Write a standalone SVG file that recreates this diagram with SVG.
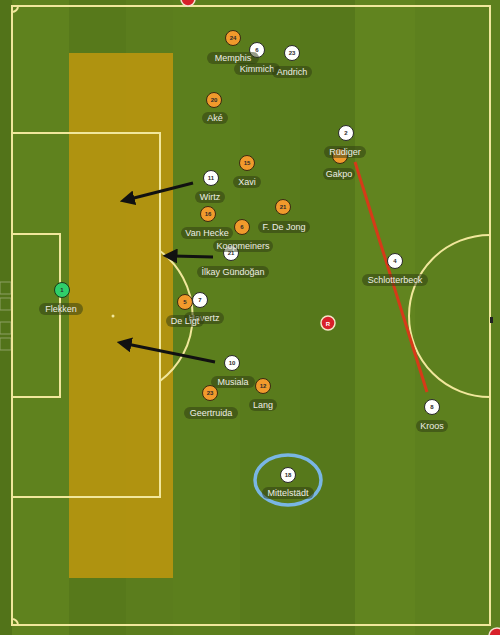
<svg xmlns="http://www.w3.org/2000/svg" width="500" height="635" viewBox="0 0 500 635">
<defs>
<style>
.ln{fill:none;stroke:#f1e79c;stroke-width:2}
.lbl rect{fill:#2e3a12;fill-opacity:0.5}
.lbl text{font-family:"Liberation Sans",Arial,sans-serif;font-size:9px;fill:#eeeee4;text-anchor:middle}
.or{fill:#f19a2c;stroke:#3a2a10;stroke-width:1}
.wh{fill:#ffffff;stroke:#2a2a2a;stroke-width:1}
.gk{fill:#2fcf6a;stroke:#1a3a1a;stroke-width:1}
.num{font-family:"Liberation Sans",Arial,sans-serif;font-size:6px;font-weight:bold;text-anchor:middle;fill:#2a2a2a}
.arr{stroke:#111;stroke-width:3;fill:none;marker-end:url(#ah)}
</style>
<marker id="ah" markerWidth="5" markerHeight="5" refX="1.5" refY="2.5" orient="auto" markerUnits="strokeWidth">
<path d="M0,0 L5,2.5 L0,5 Z" fill="#111"/>
</marker>
</defs>
<!-- pitch background -->
<rect x="0" y="0" width="500" height="635" fill="#5b7d1d"/>
<g id="stripes">
<rect x="0" y="0" width="12" height="635" fill="#527319"/>
<rect x="12" y="0" width="57" height="635" fill="#5f821e"/>
<rect x="69" y="0" width="57" height="635" fill="#57791b"/>
<rect x="173" y="0" width="67" height="635" fill="#5c7f1d"/>
<rect x="240" y="0" width="60" height="635" fill="#597b1c"/>
<rect x="300" y="0" width="55" height="635" fill="#56781b"/>
<rect x="355" y="0" width="60" height="635" fill="#61841f"/>
<rect x="415" y="0" width="85" height="635" fill="#5d801e"/>
</g>
<!-- goal net -->
<g id="goal" fill="none" stroke="#d8d8c0" stroke-opacity="0.45" stroke-width="1">
<rect x="0" y="282" width="11" height="12"/>
<rect x="0" y="298" width="11" height="12"/>
<rect x="0" y="322" width="11" height="12"/>
<rect x="0" y="338" width="11" height="12"/>
</g>
<!-- highlight zone -->
<rect id="zone" x="69" y="53" width="104" height="525" fill="#b9960f" fill-opacity="0.9"/>
<!-- pitch lines -->
<g id="lines">
<rect class="ln" x="12" y="6" width="478" height="619"/>
<rect class="ln" x="12" y="133" width="148" height="364"/>
<rect class="ln" x="12" y="234" width="48" height="163"/>
<path class="ln" d="M160,251 A81,81 0 0 1 160,381"/>
<path class="ln" d="M490,235 A81,81 0 0 0 490,397"/>
<path class="ln" d="M12,12 A6,6 0 0 0 18,6"/>
<path class="ln" d="M12,619 A6,6 0 0 1 18,625"/>
<circle cx="113" cy="316" r="1.5" fill="#f1e79c"/>
<rect x="490" y="317" width="3" height="6" fill="#222"/>
</g>
<!-- red markers -->
<circle cx="188" cy="-1" r="7" fill="#d8202a" stroke="#f5e0d0" stroke-width="1.5"/>
<circle cx="497" cy="636" r="8" fill="#d8202a" stroke="#f5e0d0" stroke-width="1.5"/>
<!-- connectors -->
<g id="connectors">
<line x1="355" y1="162" x2="427" y2="392" stroke="#d63a18" stroke-width="3"/>
<line class="arr" x1="193" y1="183" x2="130" y2="199"/>
<line class="arr" x1="213" y1="257" x2="173" y2="256"/>
<line class="arr" x1="215" y1="362" x2="127" y2="344"/>
</g>
<!-- highlight ellipse -->
<ellipse cx="288" cy="480" rx="33" ry="25" fill="none" stroke="#79b6e4" stroke-width="3.5"/>
<!-- referee -->
<g id="referee">
<circle cx="328" cy="323" r="7" fill="#d8202a" stroke="#f5e6c8" stroke-width="1.5"/>
<text x="328" y="325.5" font-family="Liberation Sans,Arial,sans-serif" font-size="6" font-weight="bold" fill="#fff" text-anchor="middle">R</text>
</g>
<!-- player discs -->
<g id="p-flekken"><circle class="gk" cx="62" cy="290" r="7.5"/><text class="num" x="62" y="292">1</text></g>
<g id="p-memphis"><circle class="or" cx="233" cy="38" r="7.5"/><text class="num" x="233" y="40">24</text></g>
<g id="p-kimmich"><circle class="wh" cx="257" cy="50" r="7.5"/><text class="num" x="257" y="52">6</text></g>
<g id="p-andrich"><circle class="wh" cx="292" cy="53" r="7.5"/><text class="num" x="292" y="55">23</text></g>
<g id="p-ake"><circle class="or" cx="214" cy="100" r="7.5"/><text class="num" x="214" y="102">20</text></g>
<g id="p-xavi"><circle class="or" cx="247" cy="163" r="7.5"/><text class="num" x="247" y="165">15</text></g>
<g id="p-wirtz"><circle class="wh" cx="211" cy="178" r="7.5"/><text class="num" x="211" y="180">11</text></g>
<g id="p-vanhecke"><circle class="or" cx="208" cy="214" r="7.5"/><text class="num" x="208" y="216">16</text></g>
<g id="p-dejong"><circle class="or" cx="283" cy="207" r="7.5"/><text class="num" x="283" y="209">21</text></g>
<g id="p-koopmeiners"><circle class="or" cx="242" cy="227" r="7.5"/><text class="num" x="242" y="229">6</text></g>
<g id="p-gundogan"><circle class="wh" cx="231" cy="253" r="7.5"/><text class="num" x="231" y="255">21</text></g>
<g id="p-deligt"><circle class="or" cx="185" cy="302" r="7.5"/><text class="num" x="185" y="304">5</text></g>
<g id="p-havertz"><circle class="wh" cx="200" cy="300" r="7.5"/><text class="num" x="200" y="302">7</text></g>
<g id="p-musiala"><circle class="wh" cx="232" cy="363" r="7.5"/><text class="num" x="232" y="365">10</text></g>
<g id="p-geertruida"><circle class="or" cx="210" cy="393" r="7.5"/><text class="num" x="210" y="395">23</text></g>
<g id="p-lang"><circle class="or" cx="263" cy="386" r="7.5"/><text class="num" x="263" y="388">12</text></g>
<g id="p-rudiger"><circle class="wh" cx="346" cy="133" r="7.5"/><text class="num" x="346" y="135">2</text></g>
<g id="p-gakpo"><circle class="or" cx="340" cy="156" r="7.5"/></g>
<g id="p-schlotterbeck"><circle class="wh" cx="395" cy="261" r="7.5"/><text class="num" x="395" y="263">4</text></g>
<g id="p-kroos"><circle class="wh" cx="432" cy="407" r="7.5"/><text class="num" x="432" y="409">8</text></g>
<g id="p-mittelstadt"><circle class="wh" cx="288" cy="475" r="7.5"/><text class="num" x="288" y="477">18</text></g>
<!-- labels -->
<g class="lbl">
<rect x="39" y="303" width="44" height="12" rx="6"/><text x="61" y="312">Flekken</text>
<rect x="207" y="52" width="52" height="12" rx="6"/><text x="233" y="61">Memphis</text>
<rect x="234" y="63" width="46" height="12" rx="6"/><text x="257" y="72">Kimmich</text>
<rect x="272" y="66" width="40" height="12" rx="6"/><text x="292" y="75">Andrich</text>
<rect x="202" y="112" width="26" height="12" rx="6"/><text x="215" y="121">Aké</text>
<rect x="233" y="176" width="28" height="12" rx="6"/><text x="247" y="185">Xavi</text>
<rect x="195" y="191" width="30" height="12" rx="6"/><text x="210" y="200">Wirtz</text>
<rect x="181" y="227" width="52" height="12" rx="6"/><text x="207" y="236">Van Hecke</text>
<rect x="258" y="221" width="52" height="12" rx="6"/><text x="284" y="230">F. De Jong</text>
<rect x="213" y="240" width="60" height="12" rx="6"/><text x="243" y="249">Koopmeiners</text>
<rect x="197" y="266" width="72" height="12" rx="6"/><text x="233" y="275">İlkay Gündoğan</text>
<rect x="184" y="312" width="40" height="12" rx="6"/><text x="204" y="321">Havertz</text>
<rect x="166" y="315" width="38" height="12" rx="6"/><text x="185" y="324">De Ligt</text>
<rect x="211" y="376" width="44" height="12" rx="6"/><text x="233" y="385">Musiala</text>
<rect x="184" y="407" width="54" height="12" rx="6"/><text x="211" y="416">Geertruida</text>
<rect x="249" y="399" width="28" height="12" rx="6"/><text x="263" y="408">Lang</text>
<rect x="324" y="146" width="42" height="12" rx="6"/><text x="345" y="155">Rüdiger</text>
<rect x="323" y="168" width="32" height="12" rx="6"/><text x="339" y="177">Gakpo</text>
<rect x="362" y="274" width="66" height="12" rx="6"/><text x="395" y="283">Schlotterbeck</text>
<rect x="416" y="420" width="32" height="12" rx="6"/><text x="432" y="429">Kroos</text>
<rect x="262" y="487" width="52" height="12" rx="6"/><text x="288" y="496">Mittelstädt</text>
</g>
</svg>
